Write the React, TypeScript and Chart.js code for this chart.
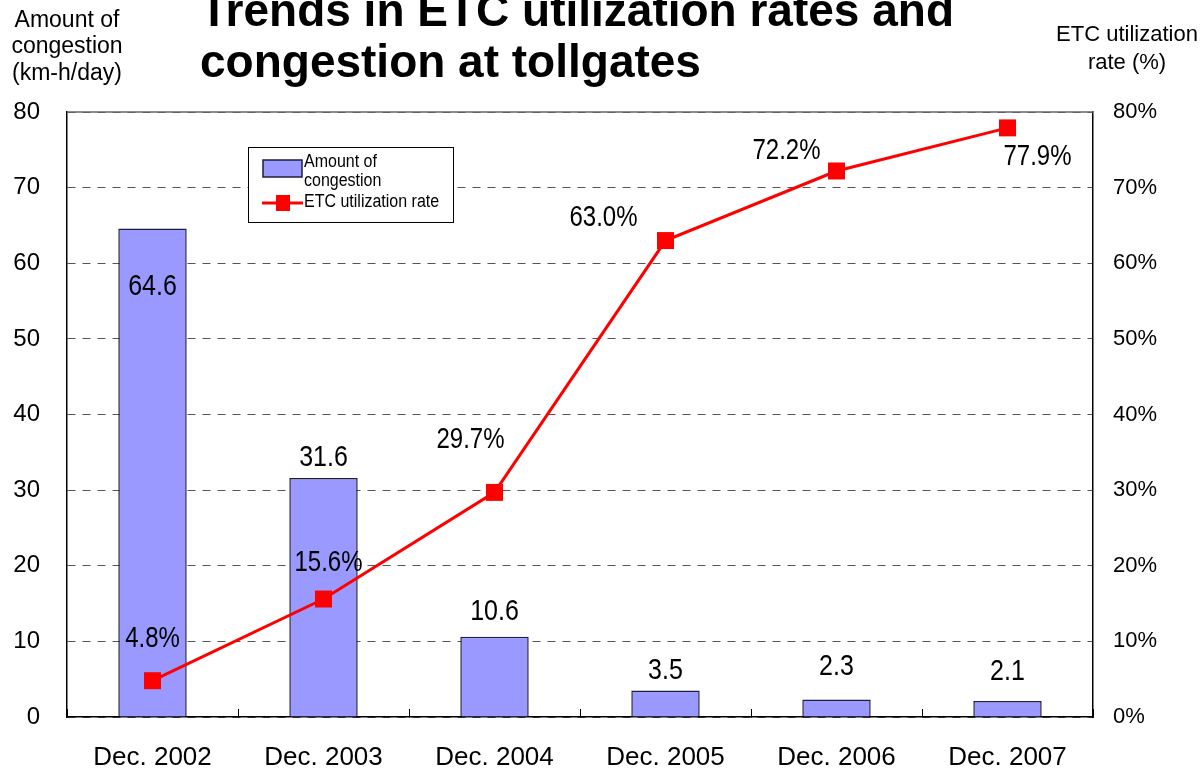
import React, { useEffect, useRef } from 'react';
import { Chart, registerables } from 'chart.js';

Chart.register(...registerables);

const categories = ['Dec. 2002', 'Dec. 2003', 'Dec. 2004', 'Dec. 2005', 'Dec. 2006', 'Dec. 2007'];
const congestion = [64.6, 31.6, 10.6, 3.5, 2.3, 2.1];
const etcRate = [4.8, 15.6, 29.7, 63.0, 72.2, 77.9];
const congestionLabels = ['64.6', '31.6', '10.6', '3.5', '2.3', '2.1'];
const etcLabels = ['4.8%', '15.6%', '29.7%', '63.0%', '72.2%', '77.9%'];
const titleLines = ['Trends in ETC utilization rates and', 'congestion at tollgates'];
const leftAxisTitle = ['Amount of', 'congestion', '(km-h/day)'];
const rightAxisTitle = ['ETC utilization', 'rate (%)'];
const legendBarLabel = ['Amount of', 'congestion'];
const legendLineLabel = 'ETC utilization rate';

// label offsets (style) relative to the marks
const barLabelDy = [58, -20, -25, -20, -33, -29];
const lineLabelDx = [0, 5, -24, -62, -50, 30];
const lineLabelDy = [-42, -36, -52, -23, -20, 29];

const FONT = '"Liberation Sans", Arial, sans-serif';
const BAR_COLOR = '#9999FF';
const BAR_BORDER = '#1e1e3c';
const LINE_COLOR = '#FF0000';

function stretchText(
  ctx: CanvasRenderingContext2D,
  text: string,
  x: number,
  y: number,
  font: string,
  align: CanvasTextAlign,
  baseline: CanvasTextBaseline,
  sy: number
) {
  ctx.save();
  ctx.font = font;
  ctx.fillStyle = '#000';
  ctx.textAlign = align;
  ctx.textBaseline = baseline;
  ctx.translate(x, y);
  ctx.scale(1, sy);
  ctx.fillText(text, 0, 0);
  ctx.restore();
}

const decorPlugin = {
  id: 'decor',
  afterDatasetsDraw(chart: any) {
    const ctx: CanvasRenderingContext2D = chart.ctx;
    const area = chart.chartArea;

    // top frame line
    ctx.save();
    ctx.strokeStyle = '#666';
    ctx.lineWidth = 1.5;
    ctx.beginPath();
    ctx.moveTo(area.left, area.top);
    ctx.lineTo(area.right, area.top);
    ctx.stroke();
    ctx.restore();

    // bar value labels
    const barMeta = chart.getDatasetMeta(0);
    barMeta.data.forEach((el: any, i: number) => {
      stretchText(ctx, congestionLabels[i], el.x, el.y + barLabelDy[i], `25px ${FONT}`, 'center', 'middle', 1.2);
    });
    // line value labels
    const lineMeta = chart.getDatasetMeta(1);
    lineMeta.data.forEach((el: any, i: number) => {
      stretchText(ctx, etcLabels[i], el.x + lineLabelDx[i], el.y + lineLabelDy[i], `24px ${FONT}`, 'center', 'middle', 1.2);
    });

    // legend
    const lx = 248, ly = 147, lw = 205, lh = 75;
    ctx.save();
    ctx.fillStyle = '#fff';
    ctx.fillRect(lx, ly, lw, lh);
    ctx.strokeStyle = '#000';
    ctx.lineWidth = 1;
    ctx.strokeRect(lx + 0.5, ly + 0.5, lw, lh);
    ctx.fillStyle = BAR_COLOR;
    ctx.fillRect(263, 160, 39, 17);
    ctx.strokeStyle = BAR_BORDER;
    ctx.lineWidth = 1.5;
    ctx.strokeRect(263, 160, 39, 17);
    ctx.strokeStyle = LINE_COLOR;
    ctx.lineWidth = 3;
    ctx.beginPath();
    ctx.moveTo(262, 203);
    ctx.lineTo(303, 203);
    ctx.stroke();
    ctx.fillStyle = LINE_COLOR;
    ctx.fillRect(276, 195, 14, 16);
    ctx.restore();
    stretchText(ctx, legendBarLabel[0], 304, 167, `16px ${FONT}`, 'left', 'alphabetic', 1.1);
    stretchText(ctx, legendBarLabel[1], 304, 186, `16px ${FONT}`, 'left', 'alphabetic', 1.1);
    stretchText(ctx, legendLineLabel, 304, 207, `16px ${FONT}`, 'left', 'alphabetic', 1.1);

    // title
    stretchText(ctx, titleLines[0], 200, 26, `bold 46px ${FONT}`, 'left', 'alphabetic', 1);
    stretchText(ctx, titleLines[1], 200, 77, `bold 46px ${FONT}`, 'left', 'alphabetic', 1);

    // axis titles
    const leftBase = [27, 53, 80];
    leftAxisTitle.forEach((t, i) => stretchText(ctx, t, 67, leftBase[i], `23px ${FONT}`, 'center', 'alphabetic', 1));
    const rightBase = [41, 69];
    rightAxisTitle.forEach((t, i) => stretchText(ctx, t, 1127, rightBase[i], `22px ${FONT}`, 'center', 'alphabetic', 1));
  },
};

export default function App() {
  const canvasRef = useRef<HTMLCanvasElement | null>(null);

  useEffect(() => {
    if (!canvasRef.current) return;
    const chart = new Chart(canvasRef.current, {
      type: 'bar',
      data: {
        labels: categories,
        datasets: [
          {
            type: 'bar',
            label: 'Amount of congestion',
            data: congestion,
            backgroundColor: BAR_COLOR,
            borderColor: BAR_BORDER,
            borderWidth: 1.5,
            barPercentage: 0.4,
            categoryPercentage: 1,
            yAxisID: 'y',
            order: 1,
          },
          {
            type: 'line',
            label: 'ETC utilization rate',
            data: etcRate,
            borderColor: LINE_COLOR,
            backgroundColor: LINE_COLOR,
            borderWidth: 3,
            pointStyle: 'rect',
            pointRadius: 12,
            pointBorderWidth: 0,
            tension: 0,
            yAxisID: 'y2',
            order: 0,
          } as any,
        ],
      },
      options: {
        responsive: false,
        animation: false,
        layout: { padding: { top: 112, left: 0, right: 0, bottom: 0 } },
        plugins: {
          legend: { display: false },
          title: { display: false },
          tooltip: { enabled: false },
        },
        scales: {
          x: {
            grid: {
              display: true,
              drawOnChartArea: false,
              drawTicks: true,
              tickLength: -8,
              color: '#000',
              lineWidth: 1,
              offset: true,
            },
            border: { display: true, color: '#000', width: 1.5 },
            ticks: {
              color: '#000',
              font: { family: FONT, size: 26 },
              padding: 33,
              maxRotation: 0,
            },
            afterFit: (s: any) => {
              s.height = 53;
            },
          },
          y: {
            position: 'left',
            min: 0,
            max: 80,
            ticks: {
              stepSize: 10,
              color: '#000',
              font: { family: FONT, size: 24 },
              padding: 27,
            },
            grid: { color: '#555', lineWidth: 1, drawTicks: false },
            border: { display: true, color: '#000', width: 1.5, dash: [8, 7] },
            afterFit: (s: any) => {
              s.width = 67;
            },
          },
          y2: {
            position: 'right',
            min: 0,
            max: 80,
            ticks: {
              stepSize: 10,
              color: '#000',
              font: { family: FONT, size: 22 },
              padding: 20,
              callback: (v: any) => `${v}%`,
            },
            grid: { display: false, drawTicks: false },
            border: { display: true, color: '#000', width: 1.5 },
            afterFit: (s: any) => {
              s.width = 108;
            },
          },
        },
      } as any,
      plugins: [decorPlugin],
    });
    return () => chart.destroy();
  }, []);

  return (
    <div style={{ position: 'fixed', left: 0, top: 0, width: 1201, height: 770, background: '#fff' }}>
      <canvas ref={canvasRef} width={1201} height={770} style={{ display: 'block' }} />
    </div>
  );
}
